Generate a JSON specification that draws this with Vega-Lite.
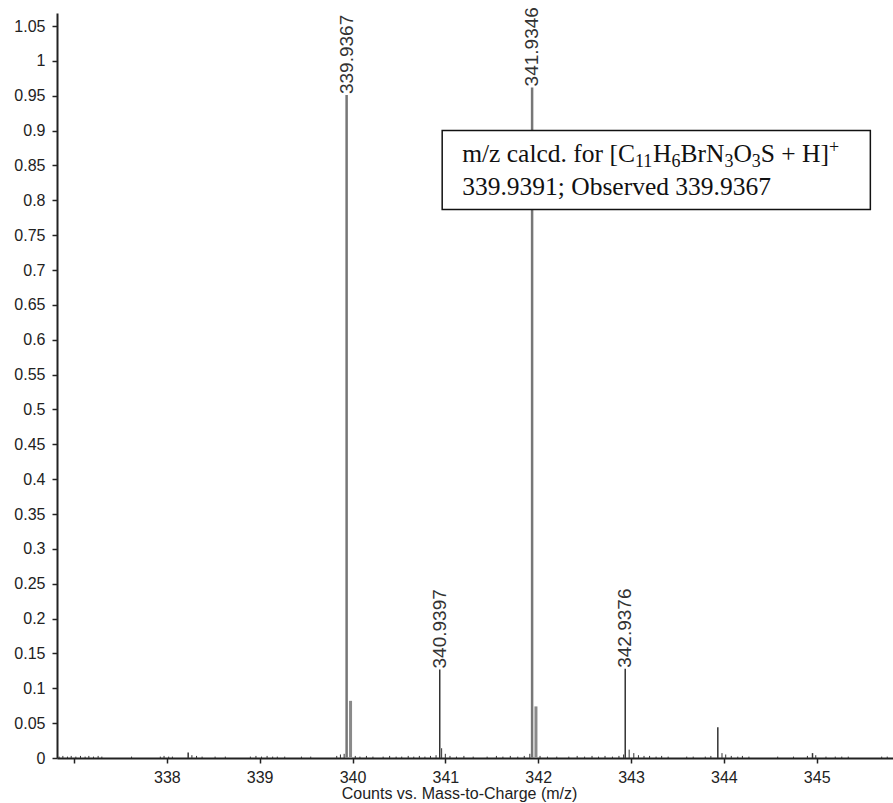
{
  "$schema": "https://vega.github.io/schema/vega-lite/v6.json",
  "autosize": "none",
  "width": 836,
  "height": 745,
  "padding": {"left": 57, "top": 13, "right": 0, "bottom": 45},
  "background": "white",
  "config": {
    "view": {"stroke": null},
    "font": "Liberation Sans",
    "axis": {
      "grid": false,
      "domainColor": "#222",
      "domainWidth": 2,
      "tickColor": "#222",
      "tickWidth": 1.5,
      "tickSize": 5,
      "labelFont": "Liberation Sans",
      "labelFontSize": 16,
      "labelColor": "#222",
      "titleFont": "Liberation Sans",
      "titleFontSize": 16,
      "titleFontWeight": "normal",
      "titleColor": "#222"
    }
  },
  "datasets": {
    "peaks": [
      {"mz": 339.9367, "intensity": 0.951, "label": "339.9367"},
      {"mz": 340.9397, "intensity": 0.127, "label": "340.9397"},
      {"mz": 341.9346, "intensity": 0.962, "label": "341.9346"},
      {"mz": 342.9376, "intensity": 0.128, "label": "342.9376"},
      {"mz": 343.935, "intensity": 0.044, "label": ""},
      {"mz": 338.23, "intensity": 0.008, "label": ""},
      {"mz": 344.955, "intensity": 0.007, "label": ""}
    ],
    "shoulders": [
      {"mz": 339.979, "intensity": 0.082},
      {"mz": 341.976, "intensity": 0.074}
    ],
    "box": [
      {"mz": 340.966, "mz2": 345.578, "intensity": 0.900, "intensity2": 0.787}
    ],
    "note": [
      {"t": "m/z calcd. for [C", "mz": 341.181, "intensity": 0.855, "kind": "main"},
      {"t": "11", "mz": 343.043, "intensity": 0.855, "kind": "sub"},
      {"t": "H", "mz": 343.237, "intensity": 0.855, "kind": "main"},
      {"t": "6", "mz": 343.436, "intensity": 0.855, "kind": "sub"},
      {"t": "BrN", "mz": 343.533, "intensity": 0.855, "kind": "main"},
      {"t": "3", "mz": 344.006, "intensity": 0.855, "kind": "sub"},
      {"t": "O", "mz": 344.103, "intensity": 0.855, "kind": "main"},
      {"t": "3", "mz": 344.301, "intensity": 0.855, "kind": "sub"},
      {"t": "S + H]", "mz": 344.398, "intensity": 0.855, "kind": "main"},
      {"t": "+", "mz": 345.133, "intensity": 0.855, "kind": "sup"},
      {"t": "339.9391; Observed 339.9367", "mz": 341.181, "intensity": 0.8076, "kind": "main"}
    ],
    "noise": [
      {"mz": 336.84, "intensity": 0.002}, {"mz": 336.88, "intensity": 0.003}, {"mz": 336.93, "intensity": 0.002},
      {"mz": 336.97, "intensity": 0.003}, {"mz": 337.02, "intensity": 0.002}, {"mz": 337.07, "intensity": 0.003},
      {"mz": 337.12, "intensity": 0.002}, {"mz": 337.16, "intensity": 0.003}, {"mz": 337.21, "intensity": 0.002},
      {"mz": 337.26, "intensity": 0.003}, {"mz": 337.30, "intensity": 0.002}, {"mz": 337.62, "intensity": 0.002},
      {"mz": 337.93, "intensity": 0.002}, {"mz": 337.97, "intensity": 0.003}, {"mz": 338.02, "intensity": 0.002},
      {"mz": 338.06, "intensity": 0.002}, {"mz": 338.27, "intensity": 0.004}, {"mz": 338.32, "intensity": 0.003},
      {"mz": 338.38, "intensity": 0.002}, {"mz": 338.52, "intensity": 0.002}, {"mz": 338.63, "intensity": 0.002},
      {"mz": 338.90, "intensity": 0.002}, {"mz": 338.96, "intensity": 0.003}, {"mz": 339.02, "intensity": 0.002},
      {"mz": 339.08, "intensity": 0.003}, {"mz": 339.14, "intensity": 0.002}, {"mz": 339.19, "intensity": 0.002},
      {"mz": 339.27, "intensity": 0.002}, {"mz": 339.45, "intensity": 0.002}, {"mz": 339.55, "intensity": 0.002},
      {"mz": 339.83, "intensity": 0.003}, {"mz": 339.87, "intensity": 0.005}, {"mz": 339.91, "intensity": 0.006},
      {"mz": 340.03, "intensity": 0.003}, {"mz": 340.08, "intensity": 0.002}, {"mz": 340.15, "intensity": 0.003},
      {"mz": 340.22, "intensity": 0.002}, {"mz": 340.33, "intensity": 0.002}, {"mz": 340.40, "intensity": 0.003},
      {"mz": 340.47, "intensity": 0.002}, {"mz": 340.53, "intensity": 0.002}, {"mz": 340.60, "intensity": 0.003},
      {"mz": 340.66, "intensity": 0.002}, {"mz": 340.72, "intensity": 0.003}, {"mz": 340.78, "intensity": 0.002},
      {"mz": 340.84, "intensity": 0.003}, {"mz": 340.90, "intensity": 0.004}, {"mz": 340.96, "intensity": 0.014},
      {"mz": 341.00, "intensity": 0.006}, {"mz": 341.05, "intensity": 0.003}, {"mz": 341.12, "intensity": 0.002},
      {"mz": 341.20, "intensity": 0.003}, {"mz": 341.30, "intensity": 0.002}, {"mz": 341.45, "intensity": 0.002},
      {"mz": 341.55, "intensity": 0.003}, {"mz": 341.62, "intensity": 0.002}, {"mz": 341.70, "intensity": 0.003},
      {"mz": 341.78, "intensity": 0.002}, {"mz": 341.85, "intensity": 0.003}, {"mz": 341.91, "intensity": 0.006},
      {"mz": 342.02, "intensity": 0.003}, {"mz": 342.10, "intensity": 0.002}, {"mz": 342.20, "intensity": 0.002},
      {"mz": 342.33, "intensity": 0.002}, {"mz": 342.42, "intensity": 0.003}, {"mz": 342.50, "intensity": 0.002},
      {"mz": 342.58, "intensity": 0.003}, {"mz": 342.65, "intensity": 0.002}, {"mz": 342.72, "intensity": 0.003},
      {"mz": 342.80, "intensity": 0.002}, {"mz": 342.87, "intensity": 0.003}, {"mz": 342.92, "intensity": 0.005},
      {"mz": 342.98, "intensity": 0.012}, {"mz": 343.03, "intensity": 0.007}, {"mz": 343.08, "intensity": 0.004},
      {"mz": 343.14, "intensity": 0.003}, {"mz": 343.20, "intensity": 0.003}, {"mz": 343.27, "intensity": 0.002},
      {"mz": 343.33, "intensity": 0.003}, {"mz": 343.40, "intensity": 0.002}, {"mz": 343.60, "intensity": 0.002},
      {"mz": 343.67, "intensity": 0.002}, {"mz": 343.80, "intensity": 0.002}, {"mz": 343.86, "intensity": 0.003},
      {"mz": 343.98, "intensity": 0.007}, {"mz": 344.02, "intensity": 0.005}, {"mz": 344.08, "intensity": 0.003},
      {"mz": 344.15, "intensity": 0.002}, {"mz": 344.20, "intensity": 0.003}, {"mz": 344.27, "intensity": 0.002},
      {"mz": 344.58, "intensity": 0.002}, {"mz": 344.75, "intensity": 0.002}, {"mz": 344.90, "intensity": 0.003},
      {"mz": 344.99, "intensity": 0.004}, {"mz": 345.10, "intensity": 0.002}, {"mz": 345.20, "intensity": 0.002},
      {"mz": 345.27, "intensity": 0.002}, {"mz": 345.34, "intensity": 0.002}, {"mz": 345.70, "intensity": 0.002},
      {"mz": 345.76, "intensity": 0.002}
    ]
  },
  "encoding": {
    "x": {
      "field": "mz",
      "type": "quantitative",
      "scale": {"domain": [336.817, 345.822], "nice": false, "zero": false},
      "axis": {
        "values": [337, 338, 339, 340, 341, 342, 343, 344, 345],
        "format": "d",
        "labelExpr": "datum.value == 337 ? '' : datum.label",
        "labelPadding": 6,
        "title": "Counts vs. Mass-to-Charge (m/z)",
        "titlePadding": 0,
        "titleX": 402,
        "titleAnchor": "middle"
      }
    },
    "y": {
      "field": "intensity",
      "type": "quantitative",
      "scale": {"domain": [0, 1.0687], "nice": false},
      "axis": {
        "values": [0, 0.05, 0.1, 0.15, 0.2, 0.25, 0.3, 0.35, 0.4, 0.45, 0.5, 0.55, 0.6, 0.65, 0.7, 0.75, 0.8, 0.85, 0.9, 0.95, 1, 1.05],
        "format": "~g",
        "labelPadding": 7,
        "labelOverlap": false,
        "title": null
      }
    }
  },
  "layer": [
    {
      "data": {"name": "noise"},
      "mark": {"type": "rule", "color": "#333", "strokeWidth": 1},
      "encoding": {"y2": {"datum": 0}}
    },
    {
      "data": {"name": "shoulders"},
      "mark": {"type": "rule", "color": "#8a8a8a", "strokeWidth": 3},
      "encoding": {"y2": {"datum": 0}}
    },
    {
      "data": {"name": "peaks"},
      "transform": [{"filter": "datum.intensity > 0.5"}],
      "mark": {"type": "rule", "color": "#777", "strokeWidth": 2.5},
      "encoding": {"y2": {"datum": 0}}
    },
    {
      "data": {"name": "peaks"},
      "transform": [{"filter": "datum.intensity <= 0.5"}],
      "mark": {"type": "rule", "color": "#333", "strokeWidth": 1.5},
      "encoding": {"y2": {"datum": 0}}
    },
    {
      "data": {"name": "peaks"},
      "transform": [{"filter": "datum.label != ''"}],
      "mark": {"type": "text", "angle": 270, "align": "left", "baseline": "middle", "dx": 1, "fontSize": 19, "font": "Liberation Sans", "color": "#333"},
      "encoding": {"text": {"field": "label", "type": "nominal"}}
    },
    {
      "data": {"name": "box"},
      "mark": {"type": "rect", "fill": "white", "stroke": "#111", "strokeWidth": 1.5},
      "encoding": {
        "x2": {"field": "mz2"},
        "y2": {"field": "intensity2"}
      }
    },
    {
      "data": {"name": "note"},
      "transform": [{"filter": "datum.kind == 'main'"}],
      "mark": {"type": "text", "align": "left", "baseline": "alphabetic", "font": "Liberation Serif", "fontSize": 25.5, "color": "#111"},
      "encoding": {"text": {"field": "t", "type": "nominal"}}
    },
    {
      "data": {"name": "note"},
      "transform": [{"filter": "datum.kind == 'sub'"}],
      "mark": {"type": "text", "align": "left", "baseline": "alphabetic", "dy": 5, "font": "Liberation Serif", "fontSize": 18, "color": "#111"},
      "encoding": {"text": {"field": "t", "type": "nominal"}}
    },
    {
      "data": {"name": "note"},
      "transform": [{"filter": "datum.kind == 'sup'"}],
      "mark": {"type": "text", "align": "left", "baseline": "alphabetic", "dy": -9, "font": "Liberation Serif", "fontSize": 18, "color": "#111"},
      "encoding": {"text": {"field": "t", "type": "nominal"}}
    }
  ]
}
